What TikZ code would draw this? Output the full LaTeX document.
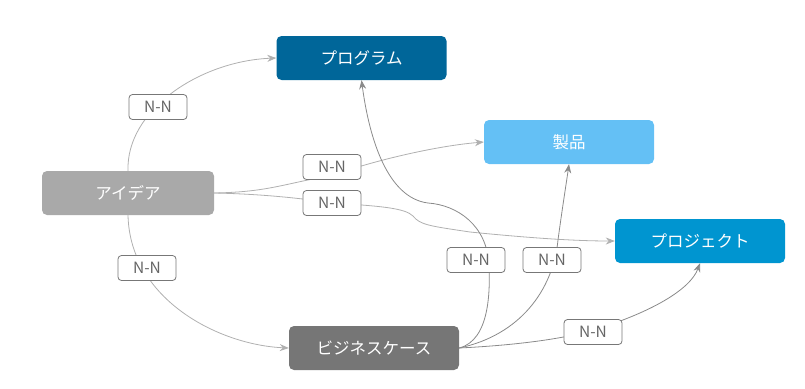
\documentclass[tikz,border=0pt]{standalone}
\usepackage{fontspec}
\setmainfont{Noto Sans CJK JP}
\usetikzlibrary{arrows.meta}
\definecolor{cprog}{HTML}{006699}
\definecolor{cprod}{HTML}{64C0F5}
\definecolor{cidea}{HTML}{A9A9A9}
\definecolor{cproj}{HTML}{0095D0}
\definecolor{cbc}{HTML}{767676}
\definecolor{elight}{HTML}{B0B0B0}
\definecolor{edark}{HTML}{8A8A8A}
\definecolor{lblb}{HTML}{777777}
\definecolor{lblt}{HTML}{666666}
\begin{document}
\begin{tikzpicture}[x=1pt,y=-1pt,
  mainbox/.style={rounded corners=5pt, minimum width=170pt, minimum height=44pt, inner sep=0pt, text=white, font=\fontsize{16.5}{18}\selectfont},
  lbl/.style={draw=lblb, fill=white, rounded corners=3.5pt, minimum width=58pt, minimum height=25pt, inner sep=0pt, text=lblt, font=\fontsize{15.5}{17}\selectfont, line width=0.8pt},
  elt/.style={draw=elight, line width=0.8pt, -{Stealth[length=9pt,width=7pt]}},
  edk/.style={draw=edark, line width=0.8pt, -{Stealth[length=9pt,width=7pt]}}]
\useasboundingbox (0,0) rectangle (805,388);
\node[mainbox, fill=cprog] (prog) at (361.5,58) {プログラム};
\node[mainbox, fill=cprod] (prod) at (569,142) {製品};
\node[mainbox, fill=cidea, minimum width=172pt] (idea) at (128,193) {アイデア};
\node[mainbox, fill=cproj] (proj) at (700,241) {プロジェクト};
\node[mainbox, fill=cbc] (bc) at (374,348) {ビジネスケース};
% edges from idea
\draw[elt] (idea.north) .. controls +(-2,-61) and +(-76,3) .. (prog.west);
\draw[elt] (idea.east) .. controls +(56,-1) and +(-50,8) .. (335,175) .. controls +(15,-7) and +(-60,5) .. (prod.west);
\draw[elt] (idea.east) .. controls +(46,1) and +(-32,-5) .. (332,203) .. controls +(48,3) and +(-8,-8) .. (413,216) .. controls +(7,9) and +(-40,-6) .. (470,232) .. controls +(60,6) and +(-40,0) .. (proj.west);
\draw[elt] (idea.south) .. controls +(2,85) and +(-69,-3) .. (bc.west);
% edges from business case
\draw[edk] (bc.east) .. controls +(31,-8) and +(1,25) .. (489,265) .. controls +(-2,-40) and +(29,2) .. (428,203) .. controls +(-40,-5) and +(8,60) .. (prog.south);
\draw[edk] (bc.east) .. controls +(61,-13) and +(-5,50) .. (558,240) .. controls +(4,-30) and +(-3,21) .. (prod.south);
\draw[edk] (bc.east) .. controls +(61,-3) and +(-30,10) .. (600,328) .. controls +(50,-16) and +(-10,27) .. (proj.south);
% labels
\node[lbl] (l1) at (158,107) {N-N};
\node[lbl] (l2) at (332,167) {N-N};
\node[lbl] (l3) at (332,203) {N-N};
\node[lbl] (l4) at (147,268) {N-N};
\node[lbl] (l5) at (476,260) {N-N};
\node[lbl] (l6) at (552,260) {N-N};
\node[lbl] (l7) at (593,332) {N-N};
\end{tikzpicture}
\end{document}
